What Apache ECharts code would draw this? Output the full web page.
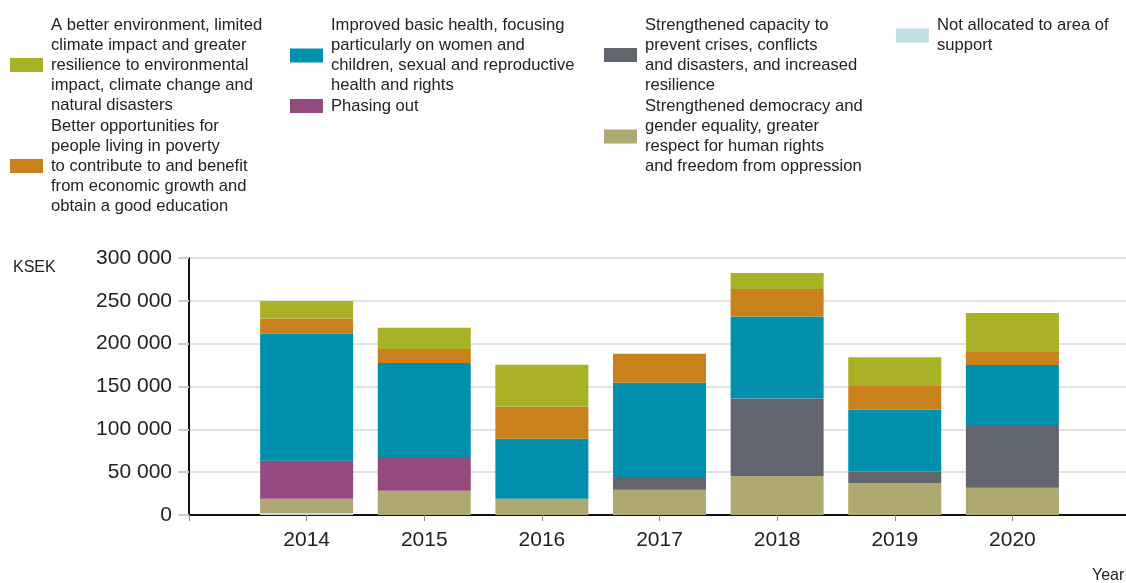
<!DOCTYPE html>
<html>
<head>
<meta charset="utf-8">
<title>Support by area</title>
<script src="https://cdn.jsdelivr.net/npm/echarts@6/dist/echarts.min.js"></script>
<style>
  html, body { margin: 0; padding: 0; background: #fff; }
  #main { width: 1126px; height: 583px; }
</style>
</head>
<body>
<div id="main"></div>
<script>
// years on the x axis (blank slots at both ends, as in the original)
var years = ['', '2014', '2015', '2016', '2017', '2018', '2019', '2020', ''];

// KSEK per area of support, stacked bottom to top
var notAllocated  = [null, 2000, 0, 0, 0, 0, 0, 0, null];
var democracy     = [null, 17000, 28400, 19000, 29500, 45500, 37400, 31900, null];
var crises        = [null, 0, 0, 0, 14800, 90600, 13500, 73200, null];
var phasingOut    = [null, 44400, 39300, 0, 0, 0, 0, 0, null];
var health        = [null, 148600, 109700, 70000, 110100, 95700, 72000, 70000, null];
var opportunities = [null, 17500, 16300, 37700, 33900, 32000, 27700, 15200, null];
var environment   = [null, 20300, 24900, 48600, 0, 18700, 33400, 45500, null];

var yTicks = [0, 50000, 100000, 150000, 200000, 250000, 300000];

var names = {
    environment: 'A better environment, limited\nclimate impact and greater\nresilience to environmental\nimpact, climate change and\nnatural disasters',
    opportunities: 'Better opportunities for\npeople living in poverty\nto contribute to and benefit\nfrom economic growth and\nobtain a good education',
    health: 'Improved basic health, focusing\nparticularly on women and\nchildren, sexual and reproductive\nhealth and rights',
    phasingOut: 'Phasing out',
    crises: 'Strengthened capacity to\nprevent crises, conflicts\nand disasters, and increased\nresilience',
    democracy: 'Strengthened democracy and\ngender equality, greater\nrespect for human rights\nand freedom from oppression',
    notAllocated: 'Not allocated to area of\nsupport'
};

var colors = {
    environment: '#a9b124',
    opportunities: '#c8811c',
    health: '#0090ae',
    phasingOut: '#944a7d',
    crises: '#62656d',
    democracy: '#aea970',
    notAllocated: '#c5dfe6'
};

var font = '"Liberation Sans", Arial, sans-serif';

function bar(key, data) {
    return {
        name: names[key],
        type: 'bar',
        stack: 'total',
        barWidth: 93,
        data: data,
        itemStyle: { color: colors[key] },
        emphasis: { disabled: true }
    };
}

// one legend per entry so each sits where it does in the original
function legendAt(key, left, centerY) {
    var lines = names[key].split('\n').length;
    return {
        data: [names[key]],
        left: left,
        top: centerY - lines * 10,
        padding: 0,
        orient: 'vertical',
        itemWidth: 33,
        itemHeight: 14,
        selectedMode: false,
        icon: 'rect',
        textStyle: {
            fontFamily: font,
            fontSize: 16.6,
            lineHeight: 20,
            color: '#222',
            padding: [0, 0, 0, 3]
        }
    };
}

var myChart = echarts.init(document.getElementById('main'));

var option = {
    animation: false,
    textStyle: { fontFamily: font },
    legend: [
        legendAt('environment', 10, 65),
        legendAt('opportunities', 10, 166),
        legendAt('health', 290, 55.5),
        legendAt('phasingOut', 290, 106),
        legendAt('crises', 604, 55),
        legendAt('democracy', 604, 136.5),
        legendAt('notAllocated', 896, 35.5)
    ],
    grid: { left: 189, top: 258, width: 941, height: 257, containLabel: false, outerBoundsMode: 'none' },
    xAxis: {
        type: 'category',
        data: years,
        boundaryGap: false,
        axisLine: { lineStyle: { color: '#111', width: 2 } },
        axisTick: { show: true, interval: 0, length: 6, lineStyle: { color: '#888' } },
        axisLabel: { interval: 0, fontSize: 21, color: '#222', margin: 15, fontFamily: font },
        splitLine: { show: false }
    },
    yAxis: {
        type: 'value',
        min: yTicks[0],
        max: yTicks[yTicks.length - 1],
        interval: 50000,
        axisLine: { show: true, lineStyle: { color: '#111', width: 2 } },
        axisTick: { show: true, length: 11, lineStyle: { color: '#ccc', width: 2 } },
        axisLabel: {
            fontSize: 21,
            color: '#222',
            margin: 17,
            fontFamily: font,
            formatter: function (v) {
                return String(v).replace(/\B(?=(\d{3})+(?!\d))/g, ' ');
            }
        },
        splitLine: { lineStyle: { color: '#e2e2e2', width: 2 } }
    },
    graphic: [
        { type: 'text', left: 13, top: 260, style: { text: 'KSEK', fontSize: 16, fontFamily: font, fill: '#222' } },
        { type: 'text', left: 1092, top: 568, style: { text: 'Year', fontSize: 16, fontFamily: font, fill: '#222' } }
    ],
    series: [
        bar('notAllocated', notAllocated),
        bar('democracy', democracy),
        bar('crises', crises),
        bar('phasingOut', phasingOut),
        bar('health', health),
        bar('opportunities', opportunities),
        bar('environment', environment)
    ]
};

myChart.setOption(option);
</script>
</body>
</html>
